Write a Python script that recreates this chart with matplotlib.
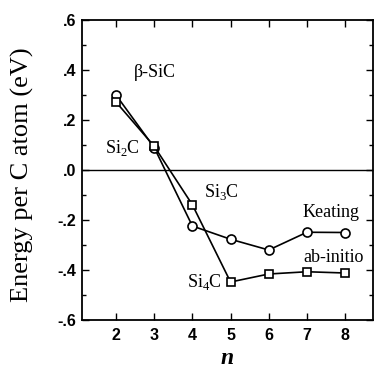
import matplotlib.pyplot as plt
from matplotlib.ticker import MultipleLocator, FixedLocator

n = [2, 3, 4, 5, 6, 7, 8]
keating = [0.300, 0.090, -0.224, -0.277, -0.320, -0.249, -0.250]
ab_initio = [0.272, 0.095, -0.139, -0.448, -0.416, -0.407, -0.412]

yticks = [0.6, 0.4, 0.2, 0.0, -0.2, -0.4, -0.6]
ytick_labels = [".6", ".4", ".2", ".0", "-.2", "-.4", "-.6"]

labels = [
    ("\u03b2-SiC", 3.02, 0.39),
    ("Si$_2$C", 2.16, 0.09),
    ("Si$_3$C", 4.77, -0.09),
    ("Keating", 7.63, -0.17),
    ("ab-initio", 7.71, -0.35),
    ("Si$_4$C", 4.33, -0.45),
]

plt.rcParams["mathtext.fontset"] = "custom"
plt.rcParams["mathtext.rm"] = "Liberation Serif"

fig = plt.figure(figsize=(3.83, 3.68), dpi=100)
ax = fig.add_axes([82 / 383, 48 / 368, 291 / 383, 300 / 368])

ax.axhline(0, color="black", lw=1.0)
ax.plot(n, keating, "-o", color="black", lw=1.2, ms=6.5, mfc="white", mec="black", mew=1.2)
ax.plot(n, ab_initio, "-s", color="black", lw=1.2, ms=6, mfc="white", mec="black", mew=1.2)

ax.set_xlim(1.11, 8.73)
ax.set_ylim(-0.6, 0.6)
ax.xaxis.set_major_locator(FixedLocator(n))
ax.set_yticks(yticks)
ax.set_yticklabels(ytick_labels)
ax.yaxis.set_minor_locator(MultipleLocator(0.1))
ax.tick_params(which="both", direction="in", right=True, top=True, width=1.0)
ax.tick_params(which="major", length=5, pad=4)
ax.tick_params(axis="x", pad=6)
ax.tick_params(which="minor", length=3)
for lab in ax.get_xticklabels() + ax.get_yticklabels():
    lab.set_family("Liberation Sans")
    lab.set_fontweight("bold")
    lab.set_fontsize(11.5)
for s in ax.spines.values():
    s.set_linewidth(1.3)

ax.set_ylabel("Energy per C atom (eV)", family="Liberation Serif", fontsize=19)
ax.yaxis.set_label_coords(-0.165, 0.485)
ax.set_xlabel("n", family="Liberation Serif", fontsize=17, style="italic",
              fontweight="bold")
ax.xaxis.set_label_coords(0.5, -0.095)

for txt, x, y in labels:
    ax.text(x, y, txt, family="Liberation Serif", fontsize=13, ha="center", va="center")

fig.savefig("out.png", dpi=100)
